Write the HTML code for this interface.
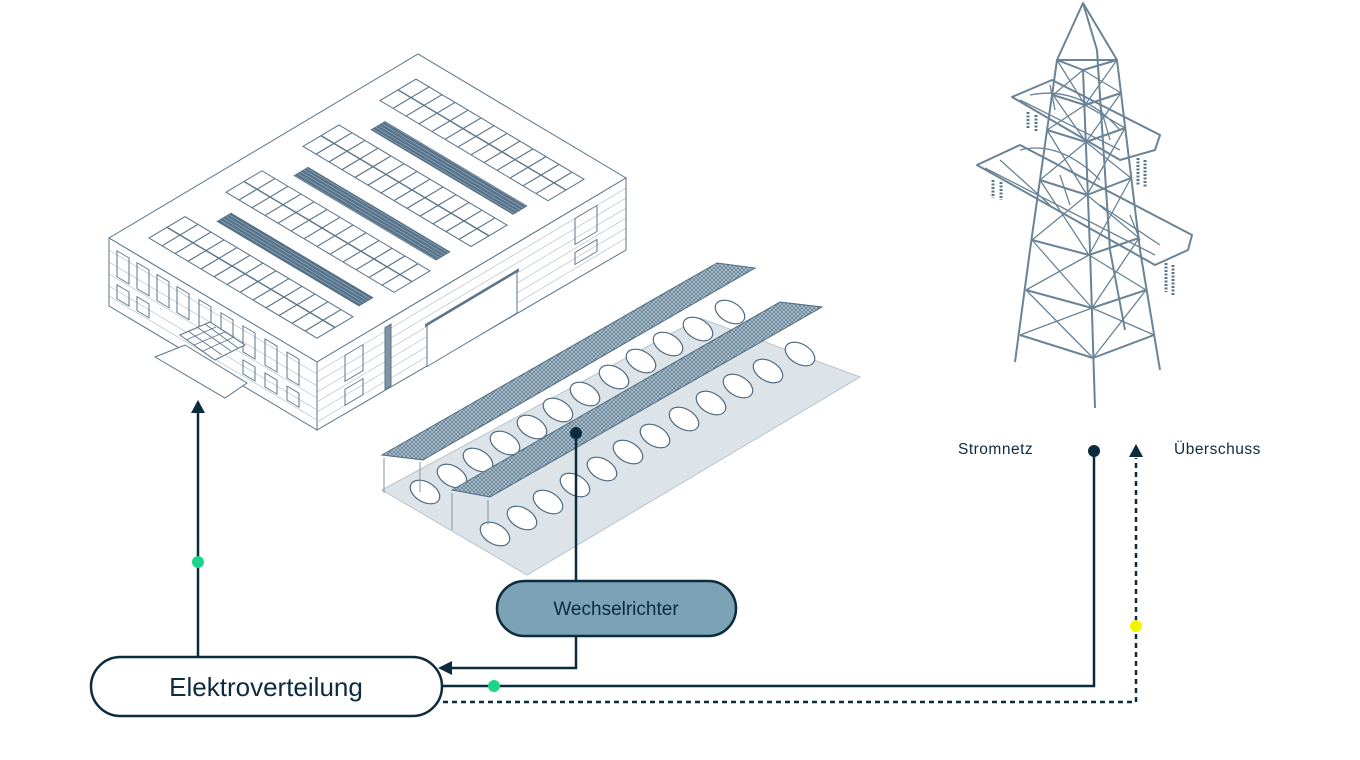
<!DOCTYPE html>
<html><head><meta charset="utf-8"><style>
html,body{margin:0;padding:0;background:#fff;}
svg{display:block;}
text{font-family:"Liberation Sans",sans-serif;}
</style></head><body>
<svg width="1360" height="760" viewBox="0 0 1360 760" xmlns="http://www.w3.org/2000/svg">
<defs>
<pattern id="pv" width="4" height="4" patternUnits="userSpaceOnUse">
<rect width="4" height="4" fill="#5f7d92"/><path d="M0 0L4 4M4 0L0 4" stroke="#c5d3dc" stroke-width="0.7"/>
</pattern>
<pattern id="dk" width="3" height="3" patternUnits="userSpaceOnUse">
<rect width="3" height="3" fill="#55728a"/><path d="M0 1.5H3" stroke="#9fb3c2" stroke-width="0.6"/>
</pattern>
</defs>

<!-- BUILDING -->
<g stroke="#5a7489" stroke-width="1" fill="#fff">
<polygon points="109,238 418,54 626,178 317,362"/>
<polygon points="109,238 317,362 317,430 109,306"/>
<polygon points="317,362 626,178 626,250 317,430"/>
</g>
<polygon points="155,357 185,345 247,383 225,398" fill="#fff" stroke="#5a7489"/>
<!-- left wall details -->
<g transform="matrix(1,0.596,0,1,109,238)" stroke="#5a7489" fill="none">
<g stroke-width="0.5" stroke="#8ea3b3">
<line x1="0" y1="12" x2="208" y2="12"/><line x1="0" y1="24" x2="208" y2="24"/><line x1="0" y1="36" x2="208" y2="36"/><line x1="0" y1="48" x2="208" y2="48"/><line x1="0" y1="58" x2="208" y2="58"/>
</g>
<g stroke-width="1">
<rect x="8" y="8" width="12" height="26"/><rect x="28" y="8" width="12" height="26"/><rect x="48" y="8" width="12" height="26"/><rect x="68" y="8" width="12" height="26"/><rect x="90" y="8" width="12" height="26"/><rect x="112" y="8" width="12" height="26"/><rect x="134" y="8" width="12" height="26"/><rect x="156" y="8" width="12" height="26"/><rect x="178" y="8" width="12" height="26"/>
<rect x="8" y="42" width="12" height="14"/><rect x="28" y="42" width="12" height="14"/><rect x="134" y="42" width="12" height="14"/><rect x="156" y="42" width="12" height="14"/><rect x="178" y="42" width="12" height="14"/>
</g>
</g>
<!-- canopy -->
<polygon points="180,335 210,322 245,345 215,360" fill="#fff" stroke="#5a7489"/>
<path d="M188,331L222,355M197,327L231,351M205,324L238,348M186,340L216,327M194,345L225,332M203,351L234,337" stroke="#5a7489" stroke-width="0.8"/>
<!-- right wall details -->
<g transform="matrix(1,-0.595,0,1,317,362)" stroke="#5a7489" fill="none">
<g stroke-width="0.5" stroke="#8ea3b3">
<line x1="0" y1="10" x2="309" y2="10"/><line x1="0" y1="20" x2="309" y2="20"/><line x1="0" y1="30" x2="309" y2="30"/><line x1="0" y1="40" x2="309" y2="40"/><line x1="0" y1="50" x2="309" y2="50"/><line x1="0" y1="60" x2="309" y2="60"/>
</g>
<rect x="28" y="10" width="18" height="26"/><rect x="28" y="44" width="18" height="16"/>
<rect x="68" y="6" width="6" height="62" fill="#7d95a7"/>
<rect x="110" y="28" width="90" height="42" fill="#fff"/><line x1="108" y1="28" x2="202" y2="28" stroke-width="3"/>
<rect x="258" y="10" width="22" height="26"/><rect x="258" y="44" width="22" height="12"/>
</g>

<!-- roof skylights -->
<g transform="matrix(1,0.596,1,-0.595,109,238)">
<g fill="#fff" stroke="#5a7489" stroke-width="1">
<rect x="20" y="20" width="168" height="36"/><rect x="20" y="97" width="168" height="36"/><rect x="20" y="174" width="168" height="36"/><rect x="20" y="251" width="168" height="36"/>
</g>
<g stroke="#5a7489" stroke-width="1.4">
<line x1="20" y1="38" x2="188" y2="38"/><line x1="20" y1="115" x2="188" y2="115"/><line x1="20" y1="192" x2="188" y2="192"/><line x1="20" y1="269" x2="188" y2="269"/>
</g>
<g stroke="#5a7489" stroke-width="1.1" stroke-dasharray="36 41">
<path d="M33 20V290M46 20V290M59 20V290M72 20V290M85 20V290M98 20V290M111 20V290M124 20V290M137 20V290M150 20V290M163 20V290M176 20V290"/>
</g>
<g fill="url(#dk)" stroke="#4a6478" stroke-width="0.6">
<rect x="40" y="68" width="142" height="14"/><rect x="40" y="145" width="142" height="14"/><rect x="40" y="222" width="142" height="14"/>
</g>
</g>

<!-- CARPORT -->
<polygon points="382,490 700,318 860,377 527,575" fill="#dde4e9" stroke="#b7c4cd"/>
<g fill="#fff" stroke="#4f6a80" stroke-width="1.2">
<g id="cars1">
<ellipse cx="425" cy="492" rx="16" ry="10" transform="rotate(30 425 492)"/>
<ellipse cx="452" cy="476" rx="16" ry="10" transform="rotate(30 452 476)"/>
<ellipse cx="478" cy="460" rx="16" ry="10" transform="rotate(30 478 460)"/>
<ellipse cx="505" cy="443" rx="16" ry="10" transform="rotate(30 505 443)"/>
<ellipse cx="532" cy="427" rx="16" ry="10" transform="rotate(30 532 427)"/>
<ellipse cx="558" cy="410" rx="16" ry="10" transform="rotate(30 558 410)"/>
<ellipse cx="585" cy="394" rx="16" ry="10" transform="rotate(30 585 394)"/>
<ellipse cx="614" cy="377" rx="16" ry="10" transform="rotate(30 614 377)"/>
<ellipse cx="641" cy="361" rx="16" ry="10" transform="rotate(30 641 361)"/>
<ellipse cx="668" cy="344" rx="16" ry="10" transform="rotate(30 668 344)"/>
<ellipse cx="698" cy="329" rx="16" ry="10" transform="rotate(30 698 329)"/>
<ellipse cx="730" cy="312" rx="16" ry="10" transform="rotate(30 730 312)"/>
</g>
<g transform="translate(70,42)"><use href="#cars1"/></g>
</g>
<polygon points="382,455 717,263 755,268 423,460" fill="url(#pv)" stroke="#4f6a80"/>
<polygon points="452,490 780,302 822,307 490,497" fill="url(#pv)" stroke="#4f6a80"/>
<g stroke="#7f96a8" stroke-width="1">
<line x1="384" y1="458" x2="384" y2="493"/><line x1="420" y1="462" x2="420" y2="492"/>
<line x1="452" y1="493" x2="452" y2="530"/><line x1="488" y1="500" x2="488" y2="525"/>
</g>

<!-- TOWER -->
<g stroke="#6a8396" stroke-width="2" fill="none" stroke-linejoin="round">
<path d="M1083,3L1057,60L1117,60Z"/>
<path d="M1083,3L1097,50"/>
<path d="M1057,60L1030,250L1015,362"/>
<path d="M1083,70L1090,250L1095,408"/>
<path d="M1117,60L1140,250L1160,370"/>
<path d="M1097,50L1110,250L1125,330"/>
<path d="M1057,60L1083,70L1117,60"/>
<path d="M1053,95L1085,105L1121,93M1047,130L1086,142L1125,128M1040,180L1087,195L1131,178M1032,240L1089,255L1139,238M1026,290L1092,308L1146,290M1020,335L1093,358L1154,335"/>
<path d="M1057,60L1085,105L1117,60M1053,95L1086,142L1121,93M1047,130L1087,195L1125,128M1040,180L1089,255L1131,178M1032,240L1092,308L1139,238M1026,290L1093,358L1146,290" stroke-width="1.3"/>
<path d="M1083,70L1053,95M1085,105L1047,130M1086,142L1040,180M1087,195L1032,240M1089,255L1026,290M1092,308L1020,335" stroke-width="1.3"/>
<path d="M1083,70L1121,93M1085,105L1125,128M1086,142L1131,178M1087,195L1139,238M1089,255L1146,290M1092,308L1154,335" stroke-width="1.3"/>
<path d="M1012,97L1052,80L1160,135L1155,150L1120,160Z"/>
<path d="M1020,100L1120,150M1050,85L1055,110M1100,105L1110,140M1030,95Q1080,85 1120,130" stroke-width="1.3"/>
<path d="M977,165L1020,145L1192,235L1188,250L1155,265Z"/>
<path d="M985,168L1155,255M1020,150Q1060,140 1100,180M1060,175L1070,205M1130,215L1140,240M1000,160L1050,205M1100,205L1160,245" stroke-width="1.3"/>
</g>
<g stroke="#5a7489" stroke-width="3" stroke-dasharray="2 1.5">
<line x1="1028" y1="112" x2="1028" y2="128"/><line x1="1036" y1="115" x2="1036" y2="131"/>
<line x1="993" y1="180" x2="993" y2="198"/><line x1="1001" y1="182" x2="1001" y2="200"/>
<line x1="1138" y1="158" x2="1138" y2="186"/><line x1="1145" y1="160" x2="1145" y2="188"/>
<line x1="1166" y1="263" x2="1166" y2="292"/><line x1="1173" y1="265" x2="1173" y2="296"/>
</g>

<!-- CONNECTORS -->
<g stroke="#0d2b3e" stroke-width="2.5" fill="none">
<line x1="198" y1="412" x2="198" y2="657"/>
<line x1="576" y1="433" x2="576" y2="582"/>
<polyline points="576,636 576,668 450,668"/>
<polyline points="443,686 1094,686 1094,450"/>
<polyline points="443,702 1136,702 1136,458" stroke-dasharray="5 4"/>
</g>
<g fill="#0d2b3e">
<polygon points="198,400 191,413 205,413"/>
<polygon points="438,668 452,661 452,675"/>
<polygon points="1136,444 1129,457 1143,457"/>
<circle cx="576" cy="433" r="6"/>
<circle cx="1094" cy="451" r="6"/>
</g>
<circle cx="198" cy="562" r="6" fill="#1ed48a"/>
<circle cx="494" cy="686" r="6" fill="#1ed48a"/>
<circle cx="1136" cy="626" r="6" fill="#f2f500"/>

<rect x="91" y="657" width="351" height="59" rx="29.5" fill="#fff" stroke="#0d2b3e" stroke-width="2.5"/>
<text x="266" y="696" text-anchor="middle" font-size="26" fill="#0d2b3e">Elektroverteilung</text>
<rect x="497" y="581" width="239" height="55" rx="27.5" fill="#7ba3b5" stroke="#0d2b3e" stroke-width="2.5"/>
<text x="616" y="615" text-anchor="middle" font-size="19" fill="#0d2b3e">Wechselrichter</text>
<text x="958" y="454" font-size="15.5" fill="#0d2b3e" letter-spacing="0.5">Stromnetz</text>
<text x="1174" y="454" font-size="15.5" fill="#0d2b3e" letter-spacing="0.5">Überschuss</text>
</svg>
</body></html>
